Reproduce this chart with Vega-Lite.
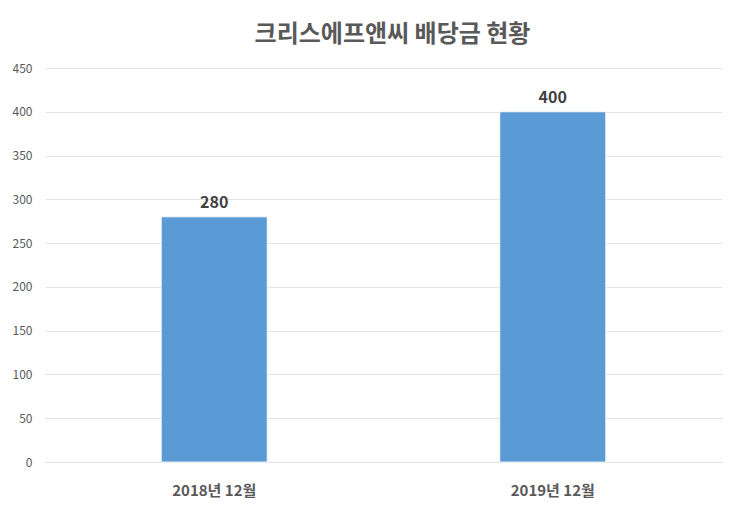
{
  "$schema": "https://vega.github.io/schema/vega-lite/v6.json",
  "autosize": "none",
  "width": 677,
  "height": 394,
  "padding": {"left": 45, "top": 68, "right": 18, "bottom": 54},
  "background": "white",
  "config": {
    "view": {"stroke": null},
    "font": "Noto Sans CJK KR"
  },
  "title": {
    "text": "크리스에프앤씨 배당금 현황",
    "fontSize": 24,
    "fontWeight": "bold",
    "color": "#595959",
    "font": "Noto Sans CJK KR",
    "anchor": "middle",
    "offset": 15,
    "dx": 9
  },
  "data": {
    "values": [
      {"period": "2018년 12월", "dividend": 280},
      {"period": "2019년 12월", "dividend": 400}
    ]
  },
  "encoding": {
    "x": {
      "field": "period",
      "type": "nominal",
      "sort": null,
      "scale": {"paddingInner": 0.687, "paddingOuter": 0.3435},
      "axis": {
        "title": null,
        "labelAngle": 0,
        "labelFontSize": 15,
        "labelFontWeight": "bold",
        "labelColor": "#595959",
        "labelPadding": 21,
        "ticks": false,
        "domain": false,
        "grid": false
      }
    },
    "y": {
      "field": "dividend",
      "type": "quantitative",
      "scale": {"domain": [0, 450], "nice": false},
      "axis": {
        "title": null,
        "values": [0, 50, 100, 150, 200, 250, 300, 350, 400, 450],
        "labelFontSize": 12,
        "labelColor": "#595959",
        "labelPadding": 13,
        "ticks": false,
        "domain": false,
        "gridColor": "#e3e3e3",
        "gridWidth": 1
      }
    }
  },
  "layer": [
    {
      "mark": {"type": "bar", "color": "#5b9bd5", "stroke": "white", "strokeWidth": 0.8}
    },
    {
      "mark": {"type": "text", "dy": -14, "fontSize": 16, "fontWeight": "bold", "color": "#404040"},
      "encoding": {"text": {"field": "dividend", "type": "quantitative"}}
    }
  ]
}
